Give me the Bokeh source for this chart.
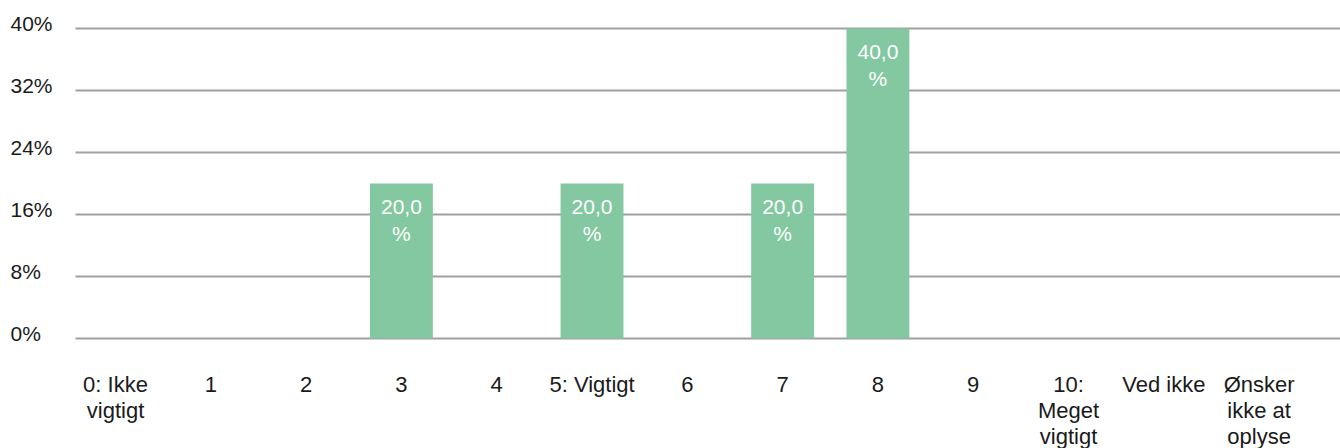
from bokeh.plotting import figure
from bokeh.models import Range1d, ColumnDataSource
from bokeh.embed import file_html
from bokeh.resources import INLINE
from bokeh.core.properties import value

# Answer categories and share of respondents (%)
categories = ["0: Ikke\nvigtigt", "1", "2", "3", "4", "5: Vigtigt", "6", "7", "8", "9",
              "10:\nMeget\nvigtigt", "Ved ikke", "Ønsker\nikke at\noplyse"]
shares = [0, 0, 0, 20.0, 0, 20.0, 0, 20.0, 40.0, 0, 0, 0, 0]
y_ticks = [0, 8, 16, 24, 32, 40]

FONT = "Liberation Sans"
BAR_COLOR = "#83C8A1"
GRID_COLOR = "#A0A0A0"
TEXT_COLOR = "#1a1a1a"

# The frame fills the whole canvas; the ranges leave room for the tick
# labels so that every text can be drawn as a glyph inside the frame.
X_START, X_END = -1.207, 12.854
Y_START, Y_END = -14.19, 43.61
GRID_LEFT = -0.42          # where the horizontal rules begin
LABEL_TOP = 46             # px below the baseline for the first label line
LINE_STEP = 26             # px between wrapped label lines

xs = list(range(len(categories)))
bar_idx = [i for i, v in enumerate(shares) if v > 0]
bars = ColumnDataSource(dict(
    x=[xs[i] for i in bar_idx],
    top=[shares[i] for i in bar_idx],
    label=[f"{shares[i]:.1f}".replace(".", ",") + "\n%" for i in bar_idx],
))

p = figure(width=1340, height=448, output_backend="svg", toolbar_location=None,
           x_range=Range1d(X_START, X_END), y_range=Range1d(Y_START, Y_END),
           min_border=0)
p.outline_line_color = None
p.background_fill_color = "white"
p.border_fill_color = "white"
p.xaxis.visible = False
p.yaxis.visible = False
p.grid.visible = False

# horizontal rules at the percentage ticks
p.segment(x0=[GRID_LEFT] * len(y_ticks), x1=[X_END] * len(y_ticks),
          y0=y_ticks, y1=y_ticks, line_color=GRID_COLOR, line_width=2)

p.vbar(x="x", top="top", width=0.66, bottom=0, source=bars,
       fill_color=BAR_COLOR, line_color=None)
p.text(x="x", y="top", text="label", source=bars, text_align="center",
       text_baseline="top", y_offset=12, text_color="white",
       text_font=value(FONT), text_font_size="21px", text_line_height=1.15)

# y tick labels, flush left
p.text(x=[X_START] * len(y_ticks), y=y_ticks, text=[f"{t}%" for t in y_ticks],
       x_offset=10, y_offset=-5, text_align="left", text_baseline="middle",
       text_font=value(FONT), text_font_size="21px", text_color=TEXT_COLOR)

# category labels, one glyph per wrapped line
lx, ltext, loff = [], [], []
for i, cat in enumerate(categories):
    for k, line in enumerate(cat.split("\n")):
        lx.append(xs[i])
        ltext.append(line)
        loff.append(LABEL_TOP + k * LINE_STEP)
cat_src = ColumnDataSource(dict(x=lx, y=[0] * len(lx), text=ltext, off=loff))
p.text(x="x", y="y", text="text", y_offset="off", source=cat_src,
       text_align="center", text_baseline="middle",
       text_font=value(FONT), text_font_size="22px", text_color=TEXT_COLOR)

open("out.html", "w").write(file_html(p, INLINE))
